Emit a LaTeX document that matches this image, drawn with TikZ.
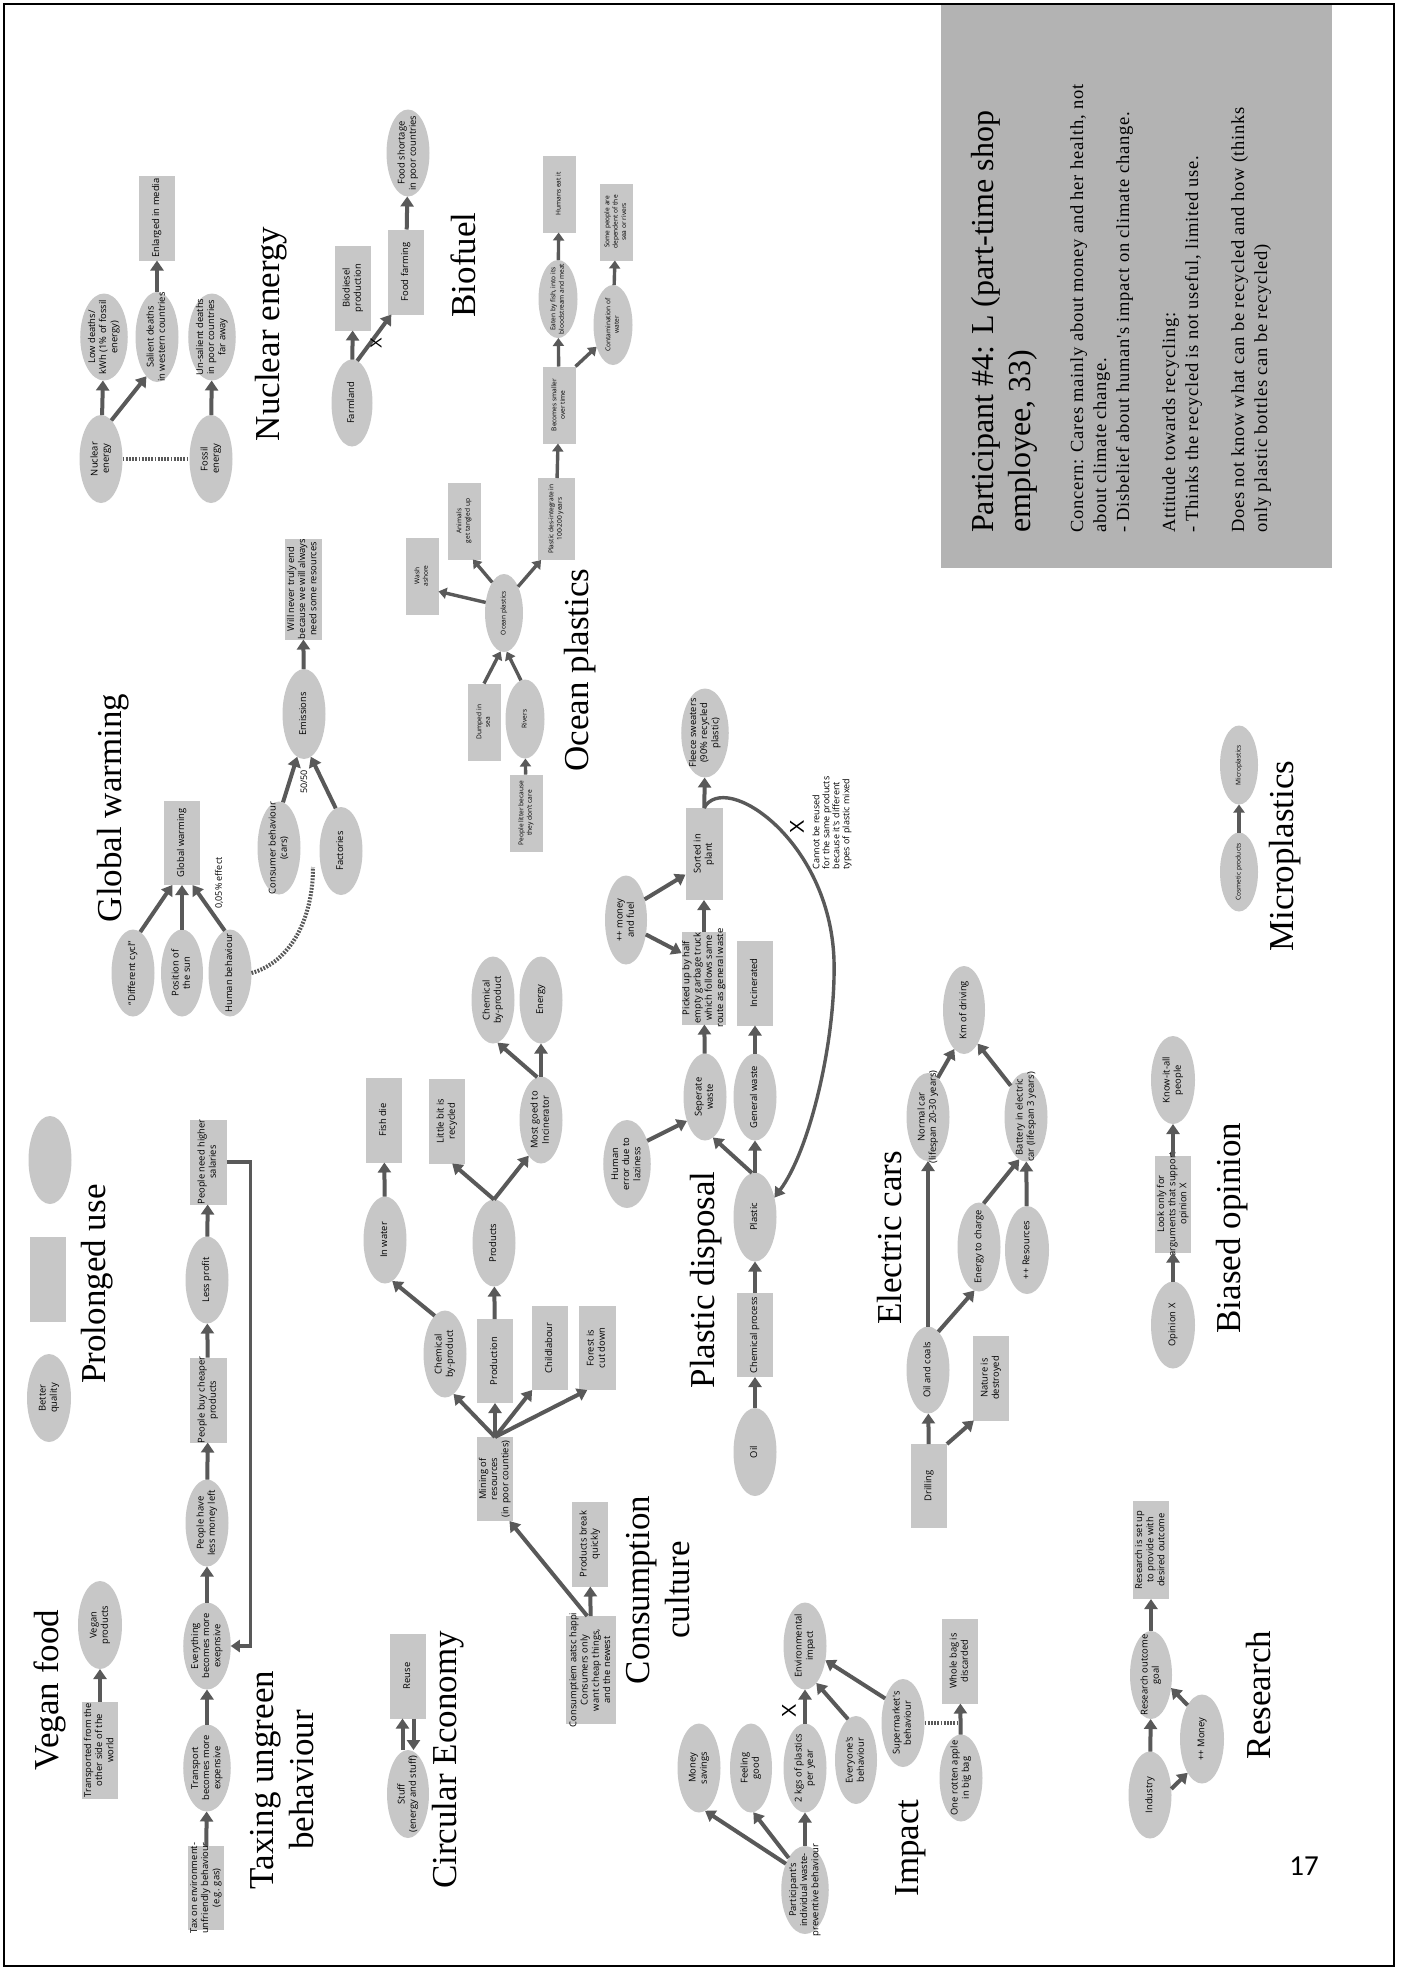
\documentclass[tikz,border=0pt]{standalone}
\usepackage{fontspec}
\usetikzlibrary{shapes.geometric,arrows.meta,calc}
\newfontfamily\nodefont{Open Sans}
\newfontfamily\serifttl{Liberation Serif}
\newfontfamily\bodyfont{Liberation Serif}[LetterSpace=4]
\newfontfamily\xmarkfont{Liberation Sans}
\newfontfamily\pagenumfont{Carlito}
\definecolor{ng}{RGB}{199,199,199}
\definecolor{pg}{RGB}{179,179,179}
\definecolor{ag}{RGB}{89,89,89}
% centred multi-line text that does not widen its node
\newcommand\ntx[1]{\makebox[0pt]{\begin{tabular}{@{}c@{}}#1\end{tabular}}}
\tikzset{
  nbase/.style={rotate=90, inner sep=0pt, outer sep=0pt, font=\nodefont\fontsize{9.4}{11.2}\selectfont},
  ell/.style 2 args={nbase, ellipse, fill=ng, minimum width=#2pt, minimum height=#1pt},
  bx/.style 2 args={nbase, rectangle, fill=ng, minimum width=#2pt, minimum height=#1pt},
  smalltxt/.style={font=\nodefont\fontsize{6.6}{8.4}\selectfont},
  arr/.style={draw=ag, line width=4pt, -{Triangle[width=13pt,length=10pt]}},
  sarr/.style={draw=ag, line width=3.4pt, -{Triangle[width=11pt,length=8pt]}},
  dotl/.style={draw=ag, line width=4pt, dash pattern=on 1.8pt off 1.4pt},
  ttl/.style={rotate=90, inner sep=0pt, font=\serifttl\fontsize{35}{40}\selectfont, align=center},
  lbl/.style={rotate=90, inner sep=0pt, font=\nodefont\fontsize{9}{10}\selectfont},
  xm/.style={rotate=90, inner sep=0pt, font=\xmarkfont\fontsize{20}{20}\selectfont},
}
\begin{document}
\begin{tikzpicture}[x=1pt,y=-1pt]
\useasboundingbox (0,0) rectangle (1407,1971);
\fill[white] (0,0) rectangle (1407,1971);
\draw[line width=2.5pt] (4,4) rectangle (1394,1966);

% ---------- participant panel ----------
\fill[pg] (941,5) rectangle (1332,568);
\node[rotate=90, anchor=north west, inner sep=0pt, align=left,
      font=\serifttl\fontsize{32}{37}\selectfont] (ptitle) at (971,533)
      {Participant \#4: L (part-time shop\\employee, 33)};
\node[rotate=90, anchor=north west, inner sep=0pt, align=left,
      font=\bodyfont\fontsize{18.5}{23}\selectfont] (pbody) at (1070,533)
      {Concern: Cares mainly about money and her health, not\\
       about climate change.\\
       - Disbelief about human's impact on climate change.\\[23pt]
       Attitude towards recycling:\\
       - Thinks the recycled is not useful, limited use.\\[23pt]
       Does not know what can be recycled and how (thinks\\
       only plastic bottles can be recycled)};

% ---------- nuclear energy ----------
\node[ell={43}{88}] (nuc) at (101,459) {\ntx{Nuclear\\energy}};
\node[ell={40}{87}] (lowd) at (104,337) {\ntx{Low deaths/\\kWh (1\% of fossil\\energy)}};
\node[ell={43}{90}] (sal) at (157,337) {\ntx{Salient deaths\\in western countries}};
\node[bx={36}{85}] (enl) at (157,218) {\ntx{Enlarged in media}};
\node[ell={43}{87}] (uns) at (212,337) {\ntx{Un-salient deaths\\in poor countries\\far away}};
\node[ell={43}{88}] (fos) at (211,459) {\ntx{Fossil\\energy}};
\node[ttl] (tnuc) at (271,334) {Nuclear energy};
\draw[arr] (nuc) -- (lowd);
\draw[arr] (nuc.-15) -- (sal.165);
\draw[arr] (sal) -- (enl);
\draw[arr] (fos) -- (uns);
\draw[dotl] (nuc.south) -- (fos.north);

% ---------- biofuel ----------
\node[ell={41}{87}] (farm) at (352,403) {\ntx{Farmland}};
\node[bx={36}{85}] (bio) at (353,288) {\ntx{Biodiesel\\production}};
\node[bx={36}{85}] (food) at (406,272) {\ntx{Food farming}};
\node[ell={43}{87}] (short) at (408,153) {\ntx{Food shortage\\in poor countries}};
\node[ttl] (tbio) at (463,265) {Biofuel};
\draw[arr] (farm) -- (bio);
\draw[arr] (farm.-7) -- (food.161);
\draw[arr] (food) -- (short);
\node[xm, font=\xmarkfont\fontsize{16}{16}\selectfont] (xfarm) at (376,343) {X};

% ---------- ocean plastics ----------
\node[bx={33}{77}, smalltxt] (humans) at (559,194) {\ntx{Humans eat it}};
\node[bx={33}{77}, smalltxt] (somep) at (616,222) {\ntx{Some people are\\dependent of the\\sea or rivers}};
\node[ell={39}{78}, smalltxt] (eaten) at (558,299) {\ntx{Eaten by fish, into its\\bloodstream and meat}};
\node[ell={39}{80}, smalltxt] (contam) at (613,325) {\ntx{Contamination of\\water}};
\node[bx={33}{77}, smalltxt] (becomes) at (559,405) {\ntx{Becomes smaller\\over time}};
\node[bx={37}{82}, smalltxt] (plas) at (556,519) {\ntx{Plastic des-integrate in\\100-200 years}};
\node[bx={33}{77}, smalltxt] (wash) at (422,576) {\ntx{Wash\\ashore}};
\node[bx={33}{77}, smalltxt] (animals) at (464,521) {\ntx{Animals\\get tangled up}};
\node[bx={33}{77}, smalltxt] (dumped) at (484,722) {\ntx{Dumped in\\sea}};
\node[ell={38}{78}, smalltxt] (ocean) at (504,613) {\ntx{Ocean plastics}};
\node[ell={39}{79}, smalltxt] (rivers) at (525,719) {\ntx{Rivers}};
\node[bx={33}{77}, smalltxt] (litter) at (526,813) {\ntx{People litter because\\they don't care}};
\node[ttl] (tocean) at (580,670) {Ocean plastics};
\draw[sarr] (plas) -- (becomes);
\draw[sarr] (becomes) -- (eaten);
\draw[sarr] (eaten) -- (humans);
\draw[sarr] (becomes.south east) -- (contam.143);
\draw[sarr] (contam) -- (somep);
\draw[sarr] (ocean.60) -- (wash.-133);
\draw[sarr] (ocean.21) -- (animals.-167);
\draw[sarr] (ocean.-28) -- (plas.160);
\draw[sarr] (dumped.east) -- (ocean.175);
\draw[sarr] (rivers.6) -- (ocean.-176);
\draw[sarr] (litter) -- (rivers);

% ---------- global warming ----------
\node[bx={36}{84}] (gw) at (182,843) {\ntx{Global warming}};
\node[ell={43}{87}] (diff) at (133,973) {\ntx{“Different cycl”}};
\node[ell={42}{87}] (pos) at (182,973) {\ntx{Position of\\the sun}};
\node[ell={43}{87}] (hum) at (230,973) {\ntx{Human behaviour}};
\node[ell={43}{93}] (cons) at (279,848) {\ntx{Consumer behaviour\\(cars)}};
\node[ell={43}{88}] (fact) at (341,851) {\ntx{Factories}};
\node[ell={43}{90}] (emis) at (304,714) {\ntx{Emissions}};
\node[bx={37}{101}] (will) at (303,589) {\ntx{Will never truly end\\because we will always\\need some resources}};
\node[ttl] (tgw) at (113,808) {Global warming};
\node[lbl] (l005) at (219,883) {0,05\% effect};
\node[lbl] (l5050) at (304,782) {50/50};
\coordinate (gwdot) at (313,867);
\draw[arr] (diff.-10) -- (gw.167);
\draw[arr] (pos) -- (gw);
\draw[arr] (hum.7) -- (gw.194);
\draw[arr] (cons.-5) -- (emis.171);
\draw[arr] (fact.7) -- (emis.189);
\draw[arr] (emis) -- (will);
\draw[dotl] (hum.south) .. controls (290,962) and (313,920) .. (gwdot);

% ---------- plastic disposal ----------
\node[ell={43}{89}] (fleece) at (705,733) {\ntx{Fleece sweaters\\(90\% recycled\\plastic)}};
\node[bx={37}{92}] (sorted) at (704,854) {\ntx{Sorted in\\plant}};
\node[ell={42}{89}] (money) at (626,920) {\ntx{++ money\\and fuel}};
\node[bx={42}{93}] (picked) at (704,978) {\ntx{Picked up by half\\empty garbage truck\\which follows same\\route as general waste}};
\node[bx={36}{85}] (incin) at (755,983) {\ntx{Incinerated}};
\node[ell={41}{88}] (human) at (627,1164) {\ntx{Human\\error due to\\laziness}};
\node[ell={43}{87}] (sep) at (705,1097) {\ntx{Seperate\\waste}};
\node[ell={43}{87}] (general) at (755,1097) {\ntx{General waste}};
\node[ell={43}{89}] (plastic) at (755,1217) {\ntx{Plastic}};
\node[bx={36}{84}] (chemp) at (755,1335) {\ntx{Chemical process}};
\node[ell={43}{88}] (oil) at (755,1452) {\ntx{Oil}};
\node[ttl] (tplas) at (706,1280) {Plastic disposal};
\draw[arr] (oil) -- (chemp);
\draw[arr] (chemp) -- (plastic);
\draw[arr] (plastic) -- (general);
\draw[arr] (plastic.4) -- (sep.-169);
\draw[arr] (human.-41) -- (sep.143);
\draw[arr] (sep) -- (picked);
\draw[arr] (general) -- (incin);
\draw[arr] (picked) -- (sorted);
\draw[arr] (money.-42) -- (sorted.138);
\draw[arr] (money.-126) -- (picked.42);
\draw[arr] (sorted) -- (fleece);
\draw[draw=ag, line width=3.4pt, -{Triangle[width=12pt,length=10pt]}]
  (sorted.east) .. controls (725,770) and (830,840) .. (834,960)
  .. controls (836,1040) and (810,1150) .. (plastic.-45);
\node[xm] (xcurve) at (797,827) {X};
\node[lbl, align=left] (lcannot) at (832,823) {Cannot be reused\\for the same products\\because it's different\\types of plastic mixed};

% ---------- electric cars ----------
\node[ell={43}{88}] (normal) at (928,1117) {\ntx{Normal car\\(lifespan 20-30 years)}};
\node[ell={42}{88}] (km) at (964,1010) {\ntx{Km of driving}};
\node[ell={43}{89}] (battery) at (1026,1117) {\ntx{Battery in electric\\car (lifespan 3 years)}};
\node[ell={43}{89}] (energy2) at (979,1247) {\ntx{Energy to charge}};
\node[ell={44}{88}] (res) at (1027,1250) {\ntx{++ Resources}};
\node[ell={43}{87}] (oilc) at (928,1370) {\ntx{Oil and coals}};
\node[bx={36}{85}] (nature) at (991,1378) {\ntx{Nature is\\destroyed}};
\node[bx={36}{84}] (drill) at (929,1486) {\ntx{Drilling}};
\node[ttl] (telec) at (890,1238) {Electric cars};
\draw[arr] (drill) -- (oilc);
\draw[arr] (drill.south east) -- (nature.158);
\draw[arr] (oilc) -- (normal);
\draw[arr] (oilc.-15) -- (energy2.174);
\draw[arr] (normal.-14) -- (km.166);
\draw[arr] (battery.26) -- (km.-158);
\draw[arr] (energy2.-6) -- (battery.171);
\draw[arr] (res) -- (battery);

% ---------- biased opinion ----------
\node[ell={44}{87}] (opin) at (1173,1325) {\ntx{Opinion X}};
\node[bx={36}{97}] (look) at (1173,1204) {\ntx{Look only for\\arguments that support\\opinion X}};
\node[ell={44}{88}] (know) at (1173,1080) {\ntx{Know-it-all\\people}};
\node[ttl] (tbias) at (1232,1228) {Biased opinion};
\draw[arr] (opin) -- (look);
\draw[arr] (look) -- (know);

% ---------- microplastics ----------
\node[ell={38}{79}, smalltxt] (cosm) at (1239,872) {\ntx{Cosmetic products}};
\node[ell={38}{79}, smalltxt] (micro) at (1239,765) {\ntx{Microplastics}};
\node[ttl] (tmicro) at (1285,856) {Microplastics};
\draw[sarr] (cosm) -- (micro);

% ---------- prolonged use ----------
\node[ell={44}{88}] (better) at (49,1398) {\ntx{Better\\quality}};
\node[bx={36}{85}] (legbox) at (48,1279) {};
\node[ell={43}{88}] (legell) at (50,1160) {};
\node[ttl] (tprol) at (97,1284) {Prolonged use};

% ---------- taxing ungreen behaviour ----------
\node[bx={37}{85}] (needsal) at (208,1162) {\ntx{People need higher\\salaries}};
\node[ell={43}{87}] (lessprof) at (207,1280) {\ntx{Less profit}};
\node[bx={37}{85}] (buy) at (208,1400) {\ntx{People buy cheaper\\products}};
\node[ell={43}{87}] (lessmoney) at (207,1523) {\ntx{People have\\less money left}};
\node[ell={43}{87}] (every) at (207,1646) {\ntx{Everything\\becomes more\\exepnsive}};
\node[ell={43}{87}] (transp) at (207,1768) {\ntx{Transport\\becomes more\\expensive}};
\node[bx={36}{84}] (tax) at (206,1888) {\ntx{Tax on environment-\\unfriendly behaviour\\(e.g. gas)}};
\node[ttl] (ttax) at (282,1780) {Taxing ungreen\\behaviour};
\draw[arr] (tax) -- (transp);
\draw[arr] (transp) -- (every);
\draw[arr] (every) -- (lessmoney);
\draw[arr] (lessmoney) -- (buy);
\draw[arr] (buy) -- (lessprof);
\draw[arr] (lessprof) -- (needsal);
\draw[draw=ag, line width=3.6pt, -{Triangle[width=12pt,length=9pt]}]
  (needsal.south) -- ++(24,0) |- (every.south);

% ---------- vegan food ----------
\node[ell={44}{88}] (vegan) at (100,1625) {\ntx{Vegan\\products}};
\node[bx={36}{97}] (transported) at (100,1750) {\ntx{Transported from the\\other side of the\\world}};
\node[ttl] (tvegan) at (50,1690) {Vegan food};
\draw[arr] (transported) -- (vegan);

% ---------- circular economy ----------
\node[ell={42}{88}] (stuff) at (408,1794) {\ntx{Stuff\\(energy and stuff)}};
\node[bx={36}{85}] (reuse) at (408,1676) {\ntx{Reuse}};
\node[ttl] (tcirc) at (448,1760) {Circular Economy};
\draw[arr] ([xshift=-5.5pt]stuff.east) -- ([xshift=-5.5pt]reuse.west);
\draw[arr] ([xshift=5.5pt]reuse.west) -- ([xshift=5.5pt]stuff.east);

% ---------- consumption culture ----------
\node[bx={36}{85}] (fish) at (384,1120) {\ntx{Fish die}};
\node[ell={43}{87}] (inwater) at (385,1240) {\ntx{In water}};
\node[ell={43}{87}] (chem1) at (445,1354) {\ntx{Chemical\\by-product}};
\node[bx={36}{85}] (little) at (447,1121) {\ntx{Little bit is\\recycled}};
\node[ell={43}{87}] (products) at (494,1243) {\ntx{Products}};
\node[bx={36}{84}] (production) at (495,1361) {\ntx{Production}};
\node[bx={36}{84}] (child) at (550,1348) {\ntx{Childlabour}};
\node[bx={37}{84}] (forest) at (597,1348) {\ntx{Forest is\\cut down}};
\node[bx={36}{84}] (mining) at (495,1479) {\ntx{Mining of\\resources\\(in poor counties)}};
\node[ell={43}{87}] (most) at (541,1120) {\ntx{Most goed to\\Incinerator}};
\node[ell={43}{87}] (chem2) at (493,1000) {\ntx{Chemical\\by-product}};
\node[ell={43}{87}] (energy) at (541,1000) {\ntx{Energy}};
\node[bx={36}{85}] (pbreak) at (590,1544) {\ntx{Products break\\quickly}};
\node[bx={50}{108}] (consum) at (591,1670) {\ntx{Consumptiem aatsc happi\\Consumers only\\want cheap things,\\and the newest}};
\node[ttl] (tcons) at (658,1590) {Consumption\\culture};
\draw[arr] (mining.east) -- (chem1.192);
\draw[arr] (mining) -- (production);
\draw[arr] (mining.east) -- (child.157);
\draw[arr] (mining.east) -- (forest.167);
\draw[arr] (production) -- (products);
\draw[arr] (chem1.15) -- (inwater.-170);
\draw[arr] (inwater) -- (fish);
\draw[arr] (products.east) -- (little.-173);
\draw[arr] (products.east) -- (most.161);
\draw[arr] (most.5) -- (chem2.-174);
\draw[arr] (most) -- (energy);
\draw[arr] (consum) -- (pbreak);
\draw[arr] (consum.4) -- (mining.199);

% ---------- impact ----------
\node[ell={43}{87}] (env) at (805,1646) {\ntx{Environmental\\impact}};
\node[ell={43}{89}] (msav) at (699,1768) {\ntx{Money\\savings}};
\node[ell={42}{89}] (feel) at (751,1768) {\ntx{Feeling\\good}};
\node[ell={43}{89}] (kgs) at (805,1768) {\ntx{2 kgs of plastics\\per year}};
\node[ell={42}{88}] (everyone) at (856,1760) {\ntx{Everyone's\\behaviour}};
\node[ell={43}{88}] (super) at (903,1723) {\ntx{Supermarket's\\behaviour}};
\node[ell={43}{88}] (part) at (805,1890) {\ntx{Participant's\\individual waste-\\preventive behaviour}};
\node[bx={36}{85}] (whole) at (960,1661) {\ntx{Whole bag is\\discarded}};
\node[ell={43}{87}] (apple) at (961,1778) {\ntx{One rotten apple\\in big bag}};
\node[ttl] (timpact) at (911,1848) {Impact};
\draw[arr] (part.36) -- (msav.-172);
\draw[arr] (part.27) -- (feel.-177);
\draw[arr] (part) -- (kgs);
\draw[arr] (kgs) -- (env);
\draw[arr] (everyone.11) -- (env.-163);
\draw[arr] (super.36) -- (env.-125);
\draw[dotl] (super.south) -- (super.south -| apple.east);
\draw[arr] (apple) -- (whole);
\node[xm] (xkgs) at (789,1711) {X};

% ---------- research ----------
\node[ell={43}{87}] (industry) at (1150,1795) {\ntx{Industry}};
\node[ell={44}{89}] (money2) at (1202,1739) {\ntx{++ Money}};
\node[ell={42}{88}] (goal) at (1151,1675) {\ntx{Research outcome\\goal}};
\node[bx={36}{98}] (setup) at (1151,1550) {\ntx{Research is set up\\to provide with\\desired outcome}};
\node[ttl] (tres) at (1259,1695) {Research};
\draw[arr] (industry) -- (goal);
\draw[arr] (industry.-74) -- (money2.157);
\draw[arr] (money2.23) -- (goal.-123);
\draw[arr] (goal) -- (setup);

% ---------- page number ----------
\node[inner sep=0pt, font=\pagenumfont\fontsize{29}{29}\selectfont] (pnum) at (1304,1866) {17};
\end{tikzpicture}
\end{document}
